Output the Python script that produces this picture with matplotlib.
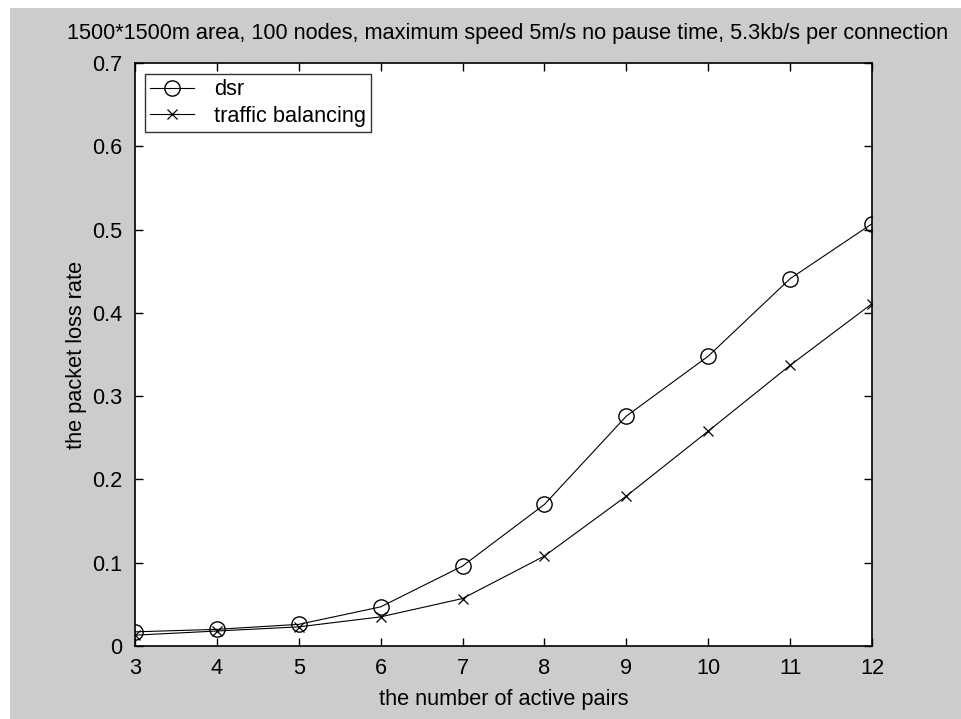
import matplotlib
matplotlib.use("Agg")
import matplotlib.pyplot as plt
from matplotlib.patches import Rectangle

pairs = [3, 4, 5, 6, 7, 8, 9, 10, 11, 12]
dsr = [0.017, 0.020, 0.026, 0.047, 0.096, 0.170, 0.276, 0.348, 0.441, 0.507]
traffic_balancing = [0.013, 0.018, 0.023, 0.035, 0.057, 0.108, 0.180, 0.258, 0.337, 0.411]
xticks = [3, 4, 5, 6, 7, 8, 9, 10, 11, 12]
yticks = [0, 0.1, 0.2, 0.3, 0.4, 0.5, 0.6, 0.7]
ytick_labels = ["0", "0.1", "0.2", "0.3", "0.4", "0.5", "0.6", "0.7"]

title = "1500*1500m area, 100 nodes, maximum speed 5m/s no pause time, 5.3kb/s per connection"

plt.rcParams['font.family'] = ['Liberation Sans', 'DejaVu Sans']
FS = 15.7

W, H = 961, 719
fig = plt.figure(figsize=(W / 100, H / 100), dpi=100, facecolor='#cccccc')
# white strips at top and left edges
fig.patches.append(Rectangle((0, 1 - 8 / H), 1, 8 / H, transform=fig.transFigure,
                             facecolor='white', edgecolor='none', zorder=-10))
fig.patches.append(Rectangle((0, 0), 10 / W, 1, transform=fig.transFigure,
                             facecolor='white', edgecolor='none', zorder=-10))

left, right, top, bottom = 135, 872, 63, 646
ax = fig.add_axes([left / W, 1 - bottom / H, (right - left) / W, (bottom - top) / H])
ax.set_facecolor('white')

ax.plot(pairs, dsr, color='black', lw=0.8, marker='o', ms=11, mfc='none', mew=1.0, label='dsr')
ax.plot(pairs, traffic_balancing, color='black', lw=0.8, marker='x', ms=7, mew=0.9,
        label='traffic balancing')

ax.set_xlim(3, 12)
ax.set_ylim(0, 0.7)
ax.set_xticks(xticks)
ax.set_xticklabels([str(t) for t in xticks])
ax.set_yticks(yticks)
ax.set_yticklabels(ytick_labels)
ax.tick_params(direction='in', length=6, width=1, top=True, right=True,
               labelsize=FS, colors='black', pad=9)
for s in ax.spines.values():
    s.set_linewidth(1.2)
    s.set_color('black')

ax.set_xlabel("the number of active pairs", fontsize=FS, labelpad=7)
ax.set_ylabel("the packet loss rate", fontsize=FS, labelpad=4)
fig.text(508 / W, 1 - 33 / H, title, fontsize=FS, ha='center', va='center')

leg = ax.legend(loc='upper left', bbox_to_anchor=(10 / (right - left), 1 - 11 / (bottom - top)),
                fontsize=FS, frameon=True, fancybox=False, edgecolor='black',
                borderaxespad=0, handlelength=2.0, handletextpad=0.9,
                borderpad=0.25, labelspacing=0.25)
leg.get_frame().set_linewidth(1.0)

fig.savefig("out.png", dpi=100, facecolor=fig.get_facecolor())
